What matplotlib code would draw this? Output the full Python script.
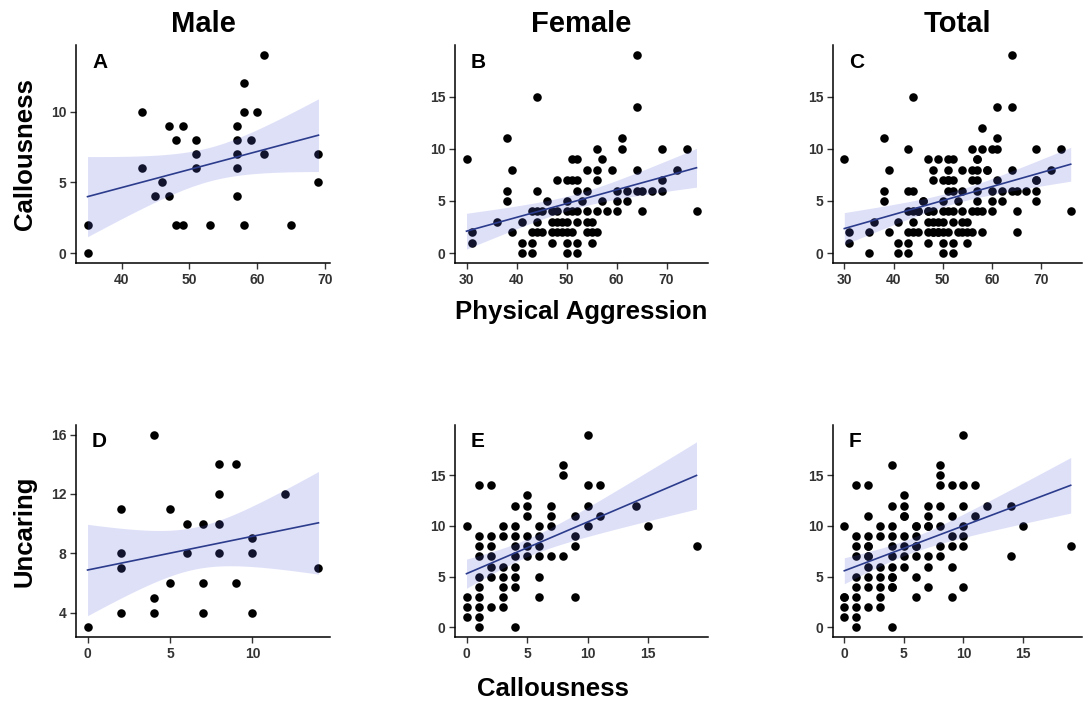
import numpy as np
import matplotlib
matplotlib.use("Agg")
import matplotlib.pyplot as plt

plt.rcParams['font.family'] = ['Liberation Sans', 'DejaVu Sans']
plt.rcParams['font.weight'] = 'bold'

# ---------------- data ----------------
# Male: Physical Aggression vs Callousness (panel A)
male_pa = [35, 35, 43, 43, 45, 46, 47, 47, 48, 48, 49, 49, 51, 51, 51, 53,
           57, 57, 57, 57, 57, 58, 58, 58, 59, 60, 61, 61, 65, 69, 69]
male_call = [2, 0, 10, 6, 4, 5, 4, 9, 8, 2, 9, 2, 8, 7, 6, 2,
             9, 8, 7, 6, 4, 12, 10, 2, 8, 10, 14, 7, 2, 7, 5]

# Male: Callousness vs Uncaring (panel D)
male_call_d = [0, 2, 2, 2, 2, 4, 4, 4, 5, 5, 6, 6, 7, 7, 7, 8, 8, 8, 8, 9, 9,
               10, 10, 10, 12, 14]
male_unc = [3, 11, 8, 7, 4, 16, 5, 4, 11, 6, 10, 8, 10, 6, 4, 14, 12, 10, 8,
            14, 6, 9, 8, 4, 12, 7]

# Female: Physical Aggression vs Callousness (panel B)
fem_pa = [41, 43, 50, 52,
          31, 41, 43, 47, 50, 52, 55,
          31, 39, 43, 44, 45, 47, 48, 49, 50, 51, 54, 55, 56,
          36, 41, 44, 47, 48, 49, 50, 52, 54, 55,
          43, 44, 45, 47, 48, 50, 51, 52, 54, 56, 58, 60, 65, 76,
          38, 46, 50, 53, 57, 60, 62,
          38, 44, 52, 54, 60, 62, 64, 65, 67, 69,
          48, 50, 51, 52, 56, 69,
          39, 54, 56, 59, 64, 72,
          30, 51, 52, 57,
          56, 61, 69, 74,
          38, 61,
          64, 44, 64]
fem_call = [0, 0, 0, 0,
            1, 1, 1, 1, 1, 1, 1,
            2, 2, 2, 2, 2, 2, 2, 2, 2, 2, 2, 2, 2,
            3, 3, 3, 3, 3, 3, 3, 3, 3, 3,
            4, 4, 4, 4, 4, 4, 4, 4, 4, 4, 4, 4, 4, 4,
            5, 5, 5, 5, 5, 5, 5,
            6, 6, 6, 6, 6, 6, 6, 6, 6, 6,
            7, 7, 7, 7, 7, 7,
            8, 8, 8, 8, 8, 8,
            9, 9, 9, 9,
            10, 10, 10, 10,
            11, 11,
            14, 15, 19]

# Female: Callousness vs Uncaring (panel E)
fem_call_e = [1, 4,
              0, 1,
              0, 1, 2, 3,
              0, 1, 3, 6, 9,
              1, 3, 4,
              1, 2, 3, 4, 6,
              2, 3, 4,
              1, 2, 4, 5, 6, 7, 8,
              1, 2, 4, 5, 6, 9, 19,
              1, 2, 3, 4, 5, 6, 9,
              0, 3, 4, 6, 7, 10, 15,
              5, 7, 9, 11,
              4, 5, 7, 10, 14,
              5,
              1, 2, 10, 11,
              8, 8, 10]
fem_unc = [0, 0,
           1, 1,
           2, 2, 2, 2,
           3, 3, 3, 3, 3,
           4, 4, 4,
           5, 5, 5, 5, 5,
           6, 6, 6,
           7, 7, 7, 7, 7, 7, 7,
           8, 8, 8, 8, 8, 8, 8,
           9, 9, 9, 9, 9, 9, 9,
           10, 10, 10, 10, 10, 10, 10,
           11, 11, 11, 11,
           12, 12, 12, 12, 12,
           13,
           14, 14, 14, 14,
           15, 16, 19]

col_titles = ["Male", "Female", "Total"]
letters = [["A", "B", "C"], ["D", "E", "F"]]
xticks_top = [[40, 50, 60, 70], [30, 40, 50, 60, 70], [30, 40, 50, 60, 70]]
yticks_top = [[0, 5, 10], [0, 5, 10, 15], [0, 5, 10, 15]]
xticks_bot = [[0, 5, 10], [0, 5, 10, 15], [0, 5, 10, 15]]
yticks_bot = [[4, 8, 12, 16], [0, 5, 10, 15], [0, 5, 10, 15]]

panels = [
    [(male_pa, male_call), (fem_pa, fem_call),
     (male_pa + fem_pa, male_call + fem_call)],
    [(male_call_d, male_unc), (fem_call_e, fem_unc),
     (male_call_d + fem_call_e, male_unc + fem_unc)],
]

# ---------------- layout ----------------
W, H = 1088, 702
fig = plt.figure(figsize=(W / 100, H / 100), dpi=100)
fig.patch.set_facecolor('white')

col_px = [(76, 330), (455, 708), (833, 1082)]
row_px = [(45, 263), (425, 637)]

TICK_COL = '#333333'
LINE_COL = '#2c3c8c'
BAND_COL = '#5a66e0'


def tq(df):
    z = 1.959964
    return z + (z**3 + z) / (4 * df) + (5 * z**5 + 16 * z**3 + 3 * z) / (96 * df**2)


def lims(v):
    v = np.asarray(v, float)
    r = v.max() - v.min()
    return v.min() - 0.05 * r, v.max() + 0.05 * r


for r in range(2):
    for c in range(3):
        x0, x1 = col_px[c]
        y0, y1 = row_px[r]
        ax = fig.add_axes([x0 / W, 1 - y1 / H, (x1 - x0) / W, (y1 - y0) / H])
        x = np.asarray(panels[r][c][0], float)
        y = np.asarray(panels[r][c][1], float)
        ax.scatter(x, y, s=38, color='black', linewidths=0, zorder=2)

        n = len(x)
        xb = x.mean()
        sxx = ((x - xb) ** 2).sum()
        b = ((x - xb) * (y - y.mean())).sum() / sxx
        a = y.mean() - b * xb
        resid = y - (a + b * x)
        s = np.sqrt((resid ** 2).sum() / (n - 2))
        xg = np.linspace(x.min(), x.max(), 100)
        yg = a + b * xg
        se = s * np.sqrt(1 / n + (xg - xb) ** 2 / sxx)
        t = tq(n - 2)
        ax.fill_between(xg, yg - t * se, yg + t * se, color=BAND_COL,
                        alpha=0.2, linewidth=0, zorder=3)
        ax.plot(xg, yg, color=LINE_COL, lw=1.2, zorder=4)

        ax.set_xlim(*lims(x))
        ax.set_ylim(*lims(y))
        if r == 0:
            ax.set_xticks(xticks_top[c])
            ax.set_yticks(yticks_top[c])
            ax.set_title(col_titles[c], fontsize=21, fontweight='bold', pad=9)
        else:
            ax.set_xticks(xticks_bot[c])
            ax.set_yticks(yticks_bot[c])

        for side in ['top', 'right']:
            ax.spines[side].set_visible(False)
        for side in ['left', 'bottom']:
            ax.spines[side].set_color('black')
            ax.spines[side].set_linewidth(1.1)
        ax.tick_params(direction='out', length=4, width=1, colors=TICK_COL,
                       labelsize=10, pad=3)
        for lab in ax.get_xticklabels() + ax.get_yticklabels():
            lab.set_fontweight('bold')
        ax.text(0.063, 0.965, letters[r][c], transform=ax.transAxes,
                fontsize=15, fontweight='bold', ha='left', va='top', zorder=5)

fig.text(25 / W, 1 - 154 / H, "Callousness", rotation=90, ha='center',
         va='center', fontsize=18.5, fontweight='bold')
fig.text(581 / W, 1 - 312 / H, "Physical Aggression", ha='center',
         va='center', fontsize=18.5, fontweight='bold')
fig.text(25 / W, 1 - 531 / H, "Uncaring", rotation=90, ha='center',
         va='center', fontsize=18.5, fontweight='bold')
fig.text(553 / W, 1 - 689 / H, "Callousness", ha='center',
         va='center', fontsize=18.5, fontweight='bold')

fig.savefig("out.png", dpi=100, facecolor='white')
